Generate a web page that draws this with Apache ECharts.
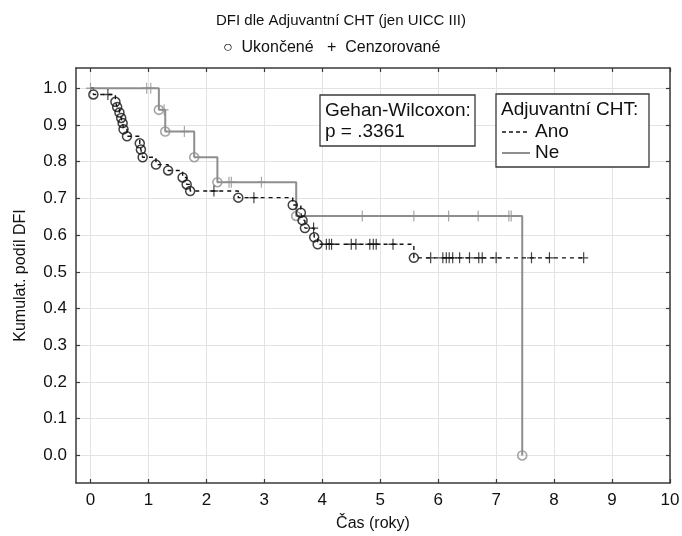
<!DOCTYPE html>
<html><head><meta charset="utf-8">
<script src="https://cdn.jsdelivr.net/npm/echarts@6/dist/echarts.min.js"></script>
<style>html,body{margin:0;padding:0;background:#fff}#c{width:682px;height:536px}</style>
</head><body><div id="c"></div>
<script>
// ---- data ----
const xTicks = [0,1,2,3,4,5,6,7,8,9,10];
const yTicks = [0,0.1,0.2,0.3,0.4,0.5,0.6,0.7,0.8,0.9,1.0];

// Ano (Adjuvantní CHT = Ano): events (Ukončené)
const anoEventT = [0.05,0.43,0.46,0.50,0.53,0.555,0.57,0.63,0.85,0.87,0.90,1.13,1.34,1.59,1.66,1.72,2.55,3.49,3.63,3.66,3.70,3.86,3.92,5.58];
const anoEventS = [0.983,0.963,0.949,0.934,0.919,0.905,0.888,0.869,0.850,0.833,0.812,0.792,0.776,0.757,0.738,0.720,0.702,0.682,0.661,0.640,0.619,0.594,0.575,0.538];
// Ano censored (Cenzorované)
const anoCensT = [0.30,2.13,2.82,3.85,4.07,4.12,4.16,4.50,4.58,4.82,4.88,4.93,5.22,5.87,6.08,6.14,6.19,6.25,6.37,6.54,6.70,6.76,7.00,7.61,7.92,8.51];
const anoCensS = [0.983,0.720,0.702,0.619,0.575,0.575,0.575,0.575,0.575,0.575,0.575,0.575,0.575,0.538,0.538,0.538,0.538,0.538,0.538,0.538,0.538,0.538,0.538,0.538,0.538,0.538];

// Ne (Adjuvantní CHT = Ne)
const neEventT = [1.18,1.29,1.79,2.19,3.55,7.45];
const neEventS = [0.941,0.882,0.812,0.744,0.652,0.0];
const neCensT = [0,0.97,1.04,1.27,1.62,2.39,2.43,2.95,4.69,5.58,6.18,6.69,7.22,7.26];
const neCensS = [1,1,1,0.941,0.882,0.744,0.744,0.744,0.652,0.652,0.652,0.652,0.652,0.652];

const startT = 0, startS = 1;

// ---- build ----
const zip = (a,b) => a.map((v,i)=>[v,b[i]]);
const anoLine = [[startT,startS]].concat(zip(anoEventT,anoEventS));
anoLine.push([anoCensT[anoCensT.length-1], anoEventS[anoEventS.length-1]]);
const neLine = [[startT,startS]].concat(zip(neEventT,neEventS));

const FONT = '"Liberation Sans", Arial, sans-serif';
const PLUS = 'path://M8.7,0H11.3V8.7H20V11.3H11.3V20H8.7V11.3H0V8.7H8.7Z';
const GRAY = '#8e8e8e';
const FRAME = '#3a3a3a';
const BOXFONT = '19px "Liberation Sans", Arial';

const chart = echarts.init(document.getElementById('c'), null, {renderer:'canvas'});
const axisLineStyle = {show:true, onZero:false, lineStyle:{color:FRAME, width:1.5}};
const tickStyle = {show:true, inside:true, length:4, lineStyle:{color:FRAME, width:1.2}};

chart.setOption({
  animation:false,
  backgroundColor:'#fff',
  textStyle:{fontFamily:FONT},
  title:[
    {text:'DFI dle Adjuvantní CHT (jen UICC III)', left:'center', top:8,
     textStyle:{fontSize:15, fontWeight:'normal', color:'#111', fontFamily:FONT}},
    {text:'○  Ukončené   +  Cenzorované', left:218, top:35,
     textStyle:{fontSize:16, fontWeight:'normal', color:'#111', fontFamily:FONT}}
  ],
  grid:{left:76, right:12, top:68, bottom:53, containLabel:false, outerBoundsMode:'none', show:false},
  xAxis:[
    {type:'value', min:-0.25, max:10, position:'bottom',
     axisLine:axisLineStyle,
     axisTick:Object.assign({customValues:xTicks}, tickStyle),
     axisLabel:{customValues:xTicks, fontSize:17, color:'#111', margin:9, fontFamily:FONT},
     splitLine:{show:true, lineStyle:{color:'#e3e3e3', width:1}},
     name:'Čas (roky)', nameLocation:'middle', nameGap:33,
     nameTextStyle:{fontSize:16, color:'#111', fontFamily:FONT}},
    {type:'value', min:-0.25, max:10, position:'top',
     axisLine:axisLineStyle,
     axisTick:Object.assign({customValues:xTicks}, tickStyle),
     axisLabel:{show:false}, splitLine:{show:false}}
  ],
  yAxis:[
    {type:'value', min:-0.075, max:1.055, position:'left',
     axisLine:axisLineStyle,
     axisTick:Object.assign({customValues:yTicks}, tickStyle),
     axisLabel:{customValues:yTicks, fontSize:17, color:'#111', margin:9, fontFamily:FONT,
       formatter:v=>v.toFixed(1)},
     splitLine:{show:true, lineStyle:{color:'#e3e3e3', width:1}},
     name:'Kumulat. podíl DFI', nameLocation:'middle', nameGap:47, nameRotate:90,
     nameTextStyle:{fontSize:16, color:'#111', fontFamily:FONT}},
    {type:'value', min:-0.075, max:1.055, position:'right',
     axisLine:axisLineStyle,
     axisTick:Object.assign({customValues:yTicks}, tickStyle),
     axisLabel:{show:false}, splitLine:{show:false}}
  ],
  series:[
    {name:'Ne', type:'line', step:'end', data:neLine, showSymbol:false, z:2,
     lineStyle:{color:GRAY, width:2}},
    {name:'Ano', type:'line', step:'end', data:anoLine, showSymbol:false, z:3,
     lineStyle:{color:'#111', width:1.4, type:[4,4]}},
    {type:'scatter', data:zip(neEventT,neEventS), symbol:'circle', symbolSize:9, z:4,
     itemStyle:{color:'rgba(0,0,0,0)', borderColor:GRAY, borderWidth:1.6}},
    {type:'scatter', data:zip(neCensT,neCensS), symbol:PLUS, symbolSize:[9,11], z:4,
     itemStyle:{color:GRAY}},
    {type:'scatter', data:zip(anoEventT,anoEventS), symbol:'circle', symbolSize:9, z:5,
     itemStyle:{color:'rgba(0,0,0,0)', borderColor:'#111', borderWidth:1.5}},
    {type:'scatter', data:zip(anoCensT,anoCensS), symbol:PLUS, symbolSize:[9,11], z:5,
     itemStyle:{color:'#111'}}
  ],
  graphic:[
    {type:'rect', shape:{x:320, y:95, width:155, height:51}, z:10,
     style:{fill:'#fff', stroke:FRAME, lineWidth:1.3}},
    {type:'text', x:325, y:100, z:11,
     style:{text:'Gehan-Wilcoxon:\np = .3361', font:BOXFONT, fill:'#111', lineHeight:21}},
    {type:'rect', shape:{x:496, y:94, width:153, height:73}, z:10,
     style:{fill:'#fff', stroke:FRAME, lineWidth:1.3}},
    {type:'text', x:501, y:100, z:11,
     style:{text:'Adjuvantní CHT:', font:BOXFONT, fill:'#111'}},
    {type:'line', shape:{x1:502, y1:132, x2:530, y2:132}, z:11,
     style:{stroke:'#111', lineWidth:1.4, lineDash:[4,3]}},
    {type:'text', x:535, y:122, z:11,
     style:{text:'Ano', font:BOXFONT, fill:'#111'}},
    {type:'line', shape:{x1:502, y1:153, x2:530, y2:153}, z:11,
     style:{stroke:GRAY, lineWidth:2}},
    {type:'text', x:535, y:143, z:11,
     style:{text:'Ne', font:BOXFONT, fill:'#111'}}
  ]
});
</script></body></html>
